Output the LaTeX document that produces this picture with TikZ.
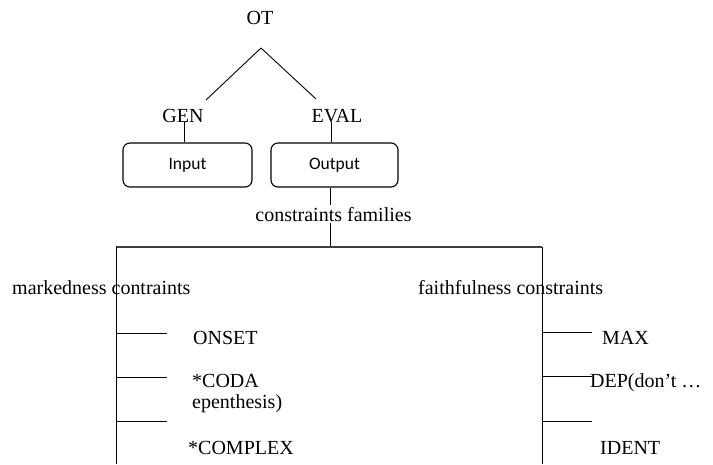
\documentclass[tikz,border=0pt]{standalone}
\usepackage{fontspec}
\setmainfont{Liberation Serif}
\newfontfamily\boxfont{Carlito}
\usetikzlibrary{calc}
\tikzset{
  lbl/.style={inner sep=0pt, font=\fontsize{20}{24}\selectfont},
  box/.style={draw, line width=1.1pt, rounded corners=7pt, minimum width=129pt, minimum height=44pt, inner sep=0pt, font=\boxfont\fontsize{17.5}{20}\selectfont},
  conn/.style={line width=0.9pt},
  bar/.style={line width=1.6pt, draw=black!75}
}
\begin{document}
\begin{tikzpicture}[x=1pt,y=-1pt]
\useasboundingbox (0,0) rectangle (713,464);
% top
\node[lbl, anchor=base] (OT) at (260,24) {OT};
\node[lbl, anchor=base] (GEN) at (183,122) {GEN};
\node[lbl, anchor=base] (EVAL) at (337,122) {EVAL};
\coordinate (apex) at (261,48);
\coordinate (gl) at (206,100);
\coordinate (el) at (316,99);
\draw[conn] (apex) -- (gl);
\draw[conn] (apex) -- (el);
\node[box] (Input) at (187.5,165) {Input};
\node[box, minimum width=127pt] (Output) at (334.5,165) {Output};
\draw[conn] ([xshift=1pt]GEN.base) -- ([xshift=1pt]GEN.base |- Input.north);
\draw[conn] ([xshift=-6pt]EVAL.base) -- ([xshift=-6pt]EVAL.base |- Output.north);
% constraints families
\node[lbl, anchor=base, inner ysep=2pt] (cf) at (333.5,221) {constraints families};
\coordinate (cx) at (330,247);
\coordinate (mk) at (116,247);
\coordinate (fk) at (542,247);
\draw[conn] (Output.south -| cx) -- (cf.north -| cx);
\draw[conn] (cf.south -| cx) -- (cx);
\draw[bar] (mk) -- (fk);
% branches
\coordinate (mbot) at (116,464);
\coordinate (fbot) at (542,464);
\draw[conn] (mk) -- (mbot);
\draw[conn] (fk) -- (fbot);
\node[lbl, anchor=base west] (mark) at (12,294) {markedness contraints};
\node[lbl, anchor=base west] (faith) at (418,294) {faithfulness constraints};
% markedness ticks
\coordinate (m1a) at (116,333); \coordinate (m1b) at (167,333);
\coordinate (m2a) at (116,377); \coordinate (m2b) at (167,377);
\coordinate (m3a) at (116,421); \coordinate (m3b) at (167,421);
\draw[conn] (m1a) -- (m1b);
\draw[conn] (m2a) -- (m2b);
\draw[conn] (m3a) -- (m3b);
\node[lbl, anchor=base west] (onset) at (193,344) {ONSET};
\node[lbl, anchor=base west] (coda) at (192,387) {*CODA};
\node[lbl, anchor=base west] (epen) at (192,408) {epenthesis)};
\node[lbl, anchor=base west] (complex) at (188,454) {*COMPLEX};
% faithfulness ticks
\coordinate (f1a) at (542,332); \coordinate (f1b) at (592,332);
\coordinate (f2a) at (542,376); \coordinate (f2b) at (592,376);
\coordinate (f3a) at (542,421); \coordinate (f3b) at (592,421);
\draw[conn] (f1a) -- (f1b);
\draw[conn] (f2a) -- (f2b);
\draw[conn] (f3a) -- (f3b);
\node[lbl, anchor=base west] (max) at (602,344) {MAX};
\node[lbl, anchor=base west] (dep) at (590,387) {DEP(don’t …};
\node[lbl, anchor=base west] (ident) at (600,454) {IDENT};
\end{tikzpicture}
\end{document}
